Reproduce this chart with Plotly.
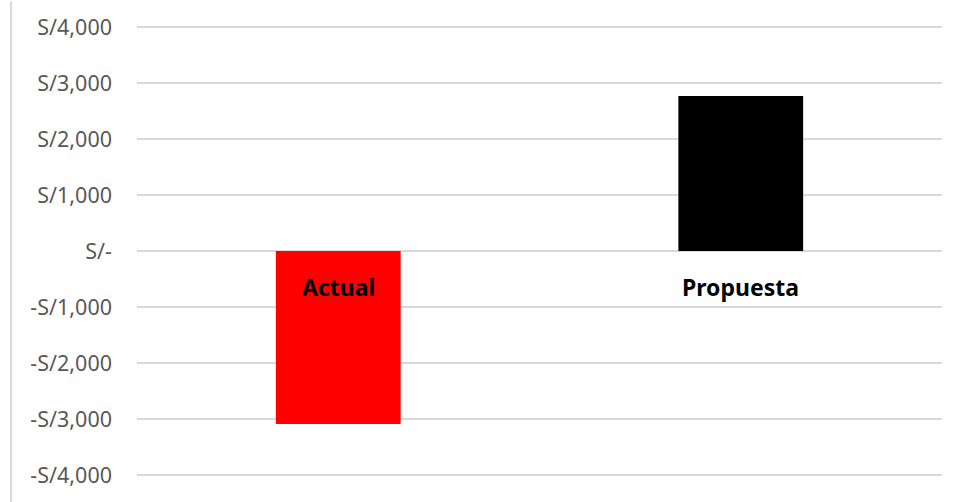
import plotly.graph_objects as go

categories = ["Actual", "Propuesta"]
values = [-3090, 2770]
bar_colors = ["#FF0000", "#000000"]
tick_values = [4000, 3000, 2000, 1000, 0, -1000, -2000, -3000, -4000]
tick_labels = ["S/4,000", "S/3,000", "S/2,000", "S/1,000", "S/-",
               "-S/1,000", "-S/2,000", "-S/3,000", "-S/4,000"]

FONT = "Noto Sans"
Y_MAX = 4000 + 3 / 0.056  # small padding so the edge gridlines are drawn

fig = go.Figure()
fig.add_trace(go.Bar(
    x=categories, y=values,
    marker=dict(color=bar_colors, line=dict(width=0)),
    width=0.31,
    hoverinfo="skip",
))

for cat in categories:
    fig.add_annotation(
        x=cat, y=0, xref="x", yref="y",
        text=f"<b>{cat}</b>", showarrow=False,
        yanchor="top", yshift=-18,
        font=dict(family=FONT, size=23, color="#000000"),
    )

# left chart-area border line (decoration)
fig.add_shape(type="line", xref="paper", yref="paper",
              x0=-126 / 805, x1=-126 / 805, y0=-0.06, y1=1.05,
              line=dict(color="#D9D9D9", width=2))

fig.update_layout(
    width=960, height=502,
    margin=dict(l=137, r=18, t=24, b=24),
    paper_bgcolor="white", plot_bgcolor="white",
    showlegend=False,
    xaxis=dict(showticklabels=False, showgrid=False, zeroline=False,
               showline=False, ticks=""),
    yaxis=dict(range=[-Y_MAX, Y_MAX], tickvals=tick_values, ticktext=tick_labels,
               showgrid=True, gridcolor="#D9D9D9", gridwidth=1.6,
               zeroline=False, showline=False, ticks="",
               ticklabelstandoff=24,
               tickfont=dict(family=FONT, size=21.5, color="#595959")),
)

fig.write_html("out.html")
